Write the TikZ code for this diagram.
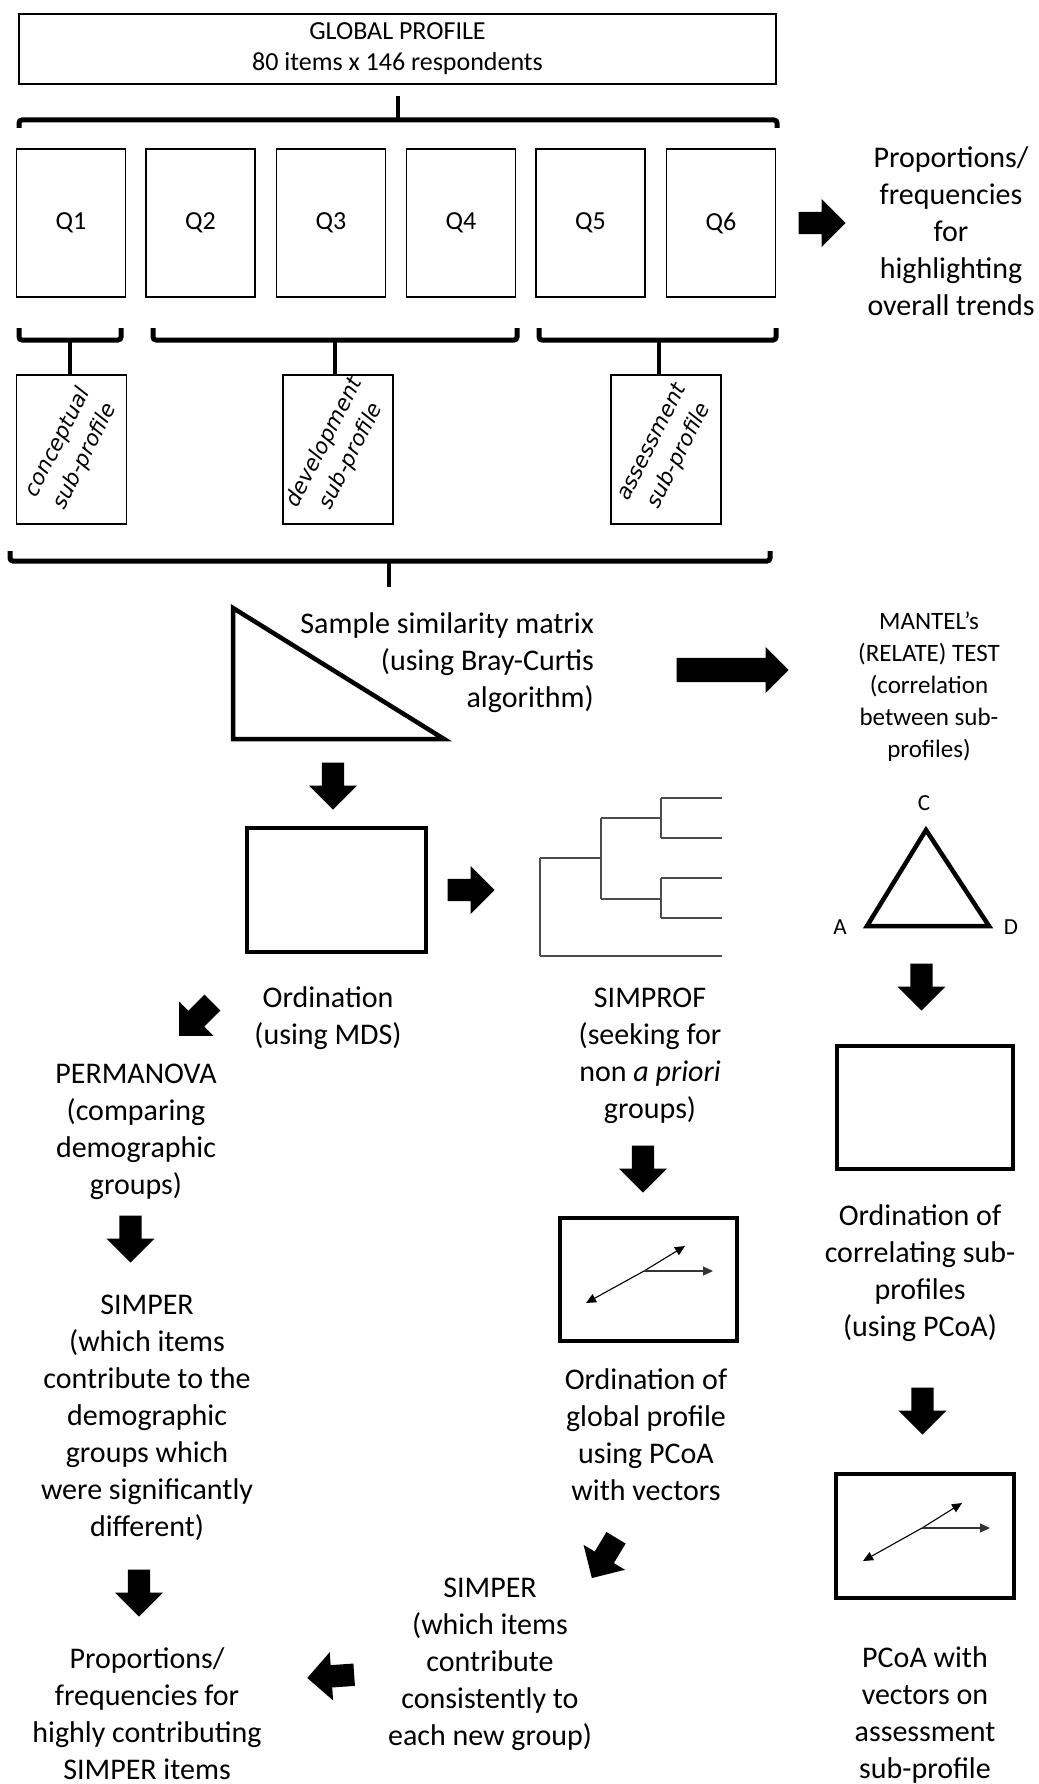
\documentclass[tikz,border=0pt]{standalone}
\usepackage{fontspec}
\setmainfont{Carlito}
\newfontfamily\labelfont{DejaVu Sans}
\usetikzlibrary{shapes.arrows,arrows.meta}

\begin{document}
\begin{tikzpicture}[x=1pt,y=-1pt,
  thinbox/.style={draw, line width=1.6pt, inner sep=0pt},
  thickbox/.style={draw, line width=4.5pt, inner sep=0pt},
  bracket/.style={line width=5pt, rounded corners=3pt},
  stem/.style={line width=4.5pt},
  txt/.style={align=center, inner sep=0pt, font=\fontsize{30}{37}\selectfont},
  smalltxt/.style={align=center, inner sep=0pt, font=\fontsize{25}{32}\selectfont},
  sublabel/.style={align=center, inner sep=0pt, rotate=63, font=\labelfont\itshape\fontsize{21.5}{30}\selectfont},
  blk/.style={single arrow, fill=black, draw=none, inner xsep=0pt, inner ysep=11pt,
    anchor=tip, minimum height=47pt, minimum width=48pt,
    single arrow head extend=13pt, single arrow tip angle=90},
  vec/.style={line width=1.1pt, -{Triangle[length=10pt,width=9pt]}},
  dendro/.style={line width=1.3pt, black!70},
  outline/.style={line width=4.5pt},
]
\useasboundingbox (0,0) rectangle (1038,1784);

% ---------- global profile and its six question blocks ----------
\node[thinbox, minimum width=757pt, minimum height=70pt, align=center,
      font=\fontsize{26}{31}\selectfont] (G) at (397.5,49)
      {GLOBAL PROFILE\\80 items x 146 respondents};

\draw[bracket] (19,128) -- (19,120) -- (777,120) -- (777,128);
\coordinate (topstem) at (398,120);
\draw[stem] (topstem) -- ++(0,-24);

\foreach \i/\x in {1/71, 2/200.5, 3/331, 4/461, 5/590.5, 6/721}
  \node[thinbox, minimum width=109pt, minimum height=148pt,
        font=\fontsize{26}{31}\selectfont] (Q\i) at (\x,223) {Q\i};

\node[blk] (aprop) at (846,223) {};
\node[txt] (prop) at (951,231.5)
  {Proportions/\\frequencies\\for\\highlighting\\overall trends};

% ---------- sub-profiles ----------
\draw[bracket] (19,328) -- (19,340) -- (121,340) -- (121,328);
\draw[bracket] (153,328) -- (153,340) -- (517,340) -- (517,328);
\draw[bracket] (539,328) -- (539,340) -- (776,340) -- (776,328);

\node[thinbox, minimum width=110pt, minimum height=149pt] (sub1) at (71.5,449.5) {};
\node[thinbox, minimum width=110pt, minimum height=149pt] (sub2) at (338,449.5) {};
\node[thinbox, minimum width=110pt, minimum height=149pt] (sub3) at (666,449.5) {};
\node[sublabel] (lab1) at (sub1.center) {conceptual\\sub-profile};
\node[sublabel] (lab2) at (sub2.center) {development\\sub-profile};
\node[sublabel] (lab3) at (sub3.center) {assessment\\sub-profile};

\coordinate (s1) at (70,340);
\coordinate (s2) at (335,340);
\coordinate (s3) at (659,340);
\draw[stem] (s1) -- (s1 |- sub1.north);
\draw[stem] (s2) -- (s2 |- sub2.north);
\draw[stem] (s3) -- (s3 |- sub3.north);

\draw[bracket] (10,551) -- (10,561) -- (770,561) -- (770,551);
\coordinate (bigstem) at (389,561);
\draw[stem] (bigstem) -- ++(0,26);

% ---------- similarity matrix ----------
\draw[outline] (233,608) -- (233,739) -- (444,739) -- cycle;
\node[txt, align=right, anchor=east] (matrix) at (594,663)
  {Sample similarity matrix\\(using Bray-Curtis\\algorithm)};

\node[blk, minimum height=112pt, minimum width=46pt, inner ysep=12pt,
      single arrow head extend=11pt] (amantel) at (789,670) {};
\node[smalltxt] (mantel) at (929,686.5)
  {MANTEL’s\\(RELATE) TEST\\(correlation\\between sub-\\profiles)};

\node[blk, rotate=-90] (amds) at (333,810) {};

% ---------- MDS ordination and cluster tree ----------
\node[thickbox, minimum width=179pt, minimum height=124pt] (mds) at (336.5,890) {};
\node[blk] (atree) at (495,890) {};

\draw[dendro] (540,858) -- (540,956);
\draw[dendro] (540,858) -- (601,858);
\draw[dendro] (540,956) -- (722,956);
\draw[dendro] (601,818) -- (601,899);
\draw[dendro] (601,818) -- (661,818);
\draw[dendro] (601,899) -- (661,899);
\draw[dendro] (661,798) -- (661,838);
\draw[dendro] (661,878) -- (661,918);
\draw[dendro] (661,798) -- (722,798);
\draw[dendro] (661,838) -- (722,838);
\draw[dendro] (661,878) -- (722,878);
\draw[dendro] (661,918) -- (722,918);

\node[txt] (ordmds) at (328,1018) {Ordination\\(using MDS)};

% ---------- Mantel triangle ----------
\draw[outline, line join=miter] (926,830) -- (867,926) -- (989,926) -- cycle;
\node[font=\fontsize{23}{28}\selectfont, inner sep=0pt] (C) at (924,803) {C};
\node[font=\fontsize{23}{28}\selectfont, inner sep=0pt] (A) at (840,927) {A};
\node[font=\fontsize{23}{28}\selectfont, inner sep=0pt] (D) at (1011,927) {D};

\node[blk, rotate=-90] (acorr) at (921.5,1011) {};
\node[thickbox, minimum width=176pt, minimum height=123pt] (corrbox) at (925,1107.5) {};
\node[txt] (ordcorr) at (920,1273)
  {Ordination of\\correlating sub-\\profiles\\(using PCoA)};
\node[blk, rotate=-90] (aass) at (922.5,1435) {};
\node[thickbox, minimum width=178pt, minimum height=124pt] (assbox) at (925,1536) {};
\coordinate (o2) at (922,1528);
\draw[vec] (o2) -- (962,1503);
\draw[vec] (o2) -- (863,1561);
\draw[vec, black!80] (o2) -- (990,1528);
\node[txt] (pcoaass) at (925,1715)
  {PCoA with\\vectors on\\assessment\\sub-profile};

% ---------- left branch: PERMANOVA ----------
\node[blk, rotate=225] (aperm) at (179,1036) {};
\node[txt] (perm) at (136,1131.5)
  {PERMANOVA\\(comparing\\demographic\\groups)};
\node[blk, rotate=-90] (asim1) at (130.5,1263) {};
\node[txt] (simper1) at (147,1418)
  {SIMPER\\(which items\\contribute to the\\demographic\\groups which\\were significantly\\different)};
\node[blk, rotate=-90] (aprop2) at (139,1617) {};
\node[txt] (prop2) at (147,1714)
  {Proportions/\\frequencies for\\highly contributing\\SIMPER items};

% ---------- middle branch: SIMPROF ----------
\node[txt] (simprof) at (650,1056)
  {SIMPROF\\(seeking for\\non \textit{a priori}\\groups)};
\node[blk, rotate=-90] (apcoa) at (643,1193) {};
\node[thickbox, minimum width=177pt, minimum height=123pt] (pcoabox) at (648.5,1279.5) {};
\coordinate (o1) at (644,1271);
\draw[vec] (o1) -- (685,1246);
\draw[vec] (o1) -- (586,1303);
\draw[vec, black!80] (o1) -- (713,1271);
\node[txt] (ordglob) at (646,1434.5)
  {Ordination of\\global profile\\using PCoA\\with vectors};
\node[blk, rotate=239] (asim2) at (591.7,1578.3) {};
\node[txt] (simper2) at (490,1664)
  {SIMPER\\(which items\\contribute\\consistently to\\each new group)};
\node[blk, rotate=184] (aprop3) at (307,1678) {};

\end{tikzpicture}
\end{document}
